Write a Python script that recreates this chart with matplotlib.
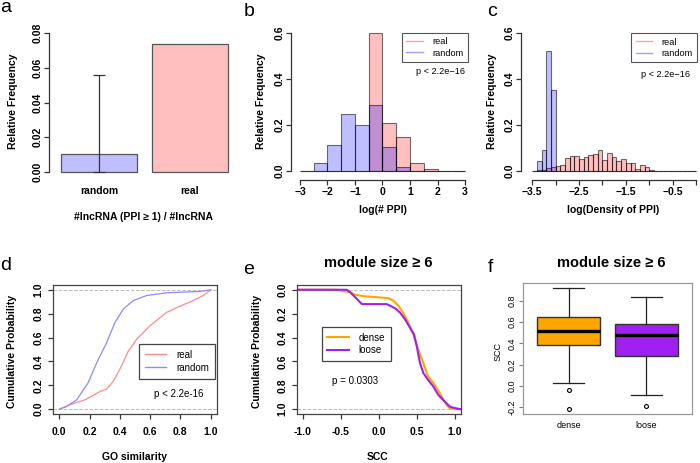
import matplotlib
matplotlib.use('Agg')
import matplotlib.pyplot as plt
from matplotlib.lines import Line2D
import numpy as np

plt.rcParams['font.family'] = ['Liberation Sans', 'DejaVu Sans']

W, H = 700, 463

# ---- a: fraction of lncRNAs with PPI >= 1
a_groups = ['random', 'real']
a_freq = [0.0105, 0.0735]
a_err_top = 0.056

# ---- b: log(# PPI) histogram, bins of 0.5
b_edges = [-3.0, -2.5, -2.0, -1.5, -1.0, -0.5, 0.0, 0.5, 1.0, 1.5, 2.0, 2.5, 3.0]
b_real = [0, 0, 0, 0, 0, 0.600, 0.210, 0.148, 0.036, 0.007, 0.002, 0.001]
b_random = [0.002, 0.036, 0.111, 0.246, 0.200, 0.285, 0.106, 0.016, 0.002, 0, 0, 0]

# ---- c: log(density of PPI) histogram, bins of 0.1
c_edges = [-3.5, -3.4, -3.3, -3.2, -3.1, -3.0, -2.9, -2.8, -2.7, -2.6, -2.5, -2.4,
           -2.3, -2.2, -2.1, -2.0, -1.9, -1.8, -1.7, -1.6, -1.5, -1.4, -1.3, -1.2,
           -1.1, -1.0, -0.9, -0.8, -0.7, -0.6, -0.5, -0.4, -0.3, -0.2, -0.1, 0.0]
c_real = [0, 0.003, 0.006, 0.012, 0.016, 0.023, 0.028, 0.055, 0.065, 0.067, 0.054,
          0.060, 0.071, 0.072, 0.091, 0.048, 0.080, 0.062, 0.042, 0.051, 0.033,
          0.033, 0.010, 0.025, 0.016, 0.003, 0.002, 0.001, 0.001, 0.001, 0.002,
          0.001, 0, 0, 0]
c_random = [0.002, 0.043, 0.091, 0.522, 0.352, 0, 0, 0, 0, 0, 0, 0, 0, 0, 0, 0, 0,
            0, 0, 0, 0, 0, 0, 0, 0, 0, 0, 0, 0, 0, 0, 0, 0, 0, 0]

# ---- d: GO similarity ECDF
d_real_x = [0.0, 0.07, 0.17, 0.27, 0.313, 0.357, 0.41, 0.456, 0.511, 0.60, 0.709, 0.797, 0.885, 0.95, 1.0]
d_real_y = [0.0, 0.037, 0.079, 0.149, 0.169, 0.234, 0.36, 0.487, 0.586, 0.70, 0.811, 0.862, 0.91, 0.952, 1.0]
d_rand_x = [0.0, 0.048, 0.115, 0.19, 0.247, 0.313, 0.368, 0.423, 0.489, 0.577, 0.709, 0.93, 1.0]
d_rand_y = [0.0, 0.023, 0.079, 0.22, 0.389, 0.558, 0.727, 0.839, 0.91, 0.952, 0.975, 0.986, 1.0]

# ---- e: SCC ECDF, module size >= 6
e_dense_x = [-1.08, -0.553, -0.44, -0.377, -0.31, -0.2, -0.026, 0.127, 0.19, 0.26, 0.32,
             0.39, 0.456, 0.52, 0.588, 0.65, 0.72, 0.807, 0.895, 0.94, 1.08]
e_dense_y = [0.0, 0.0, 0.014, 0.02, 0.042, 0.054, 0.062, 0.07, 0.09, 0.133, 0.19,
             0.274, 0.373, 0.5, 0.613, 0.726, 0.78, 0.867, 0.966, 0.994, 1.0]
e_loose_x = [-1.08, -0.42, -0.377, -0.31, -0.245, -0.22, 0.105, 0.15, 0.215, 0.28, 0.346,
             0.41, 0.465, 0.5, 0.544, 0.588, 0.65, 0.72, 0.785, 0.85, 0.94, 1.03, 1.08]
e_loose_y = [0.0, 0.0, 0.02, 0.062, 0.105, 0.12, 0.12, 0.133, 0.155, 0.19, 0.246,
             0.316, 0.373, 0.47, 0.613, 0.697, 0.754, 0.81, 0.88, 0.923, 0.98, 0.994, 1.0]

# ---- f: SCC boxplot
f_groups = ['dense', 'loose']
f_med = [0.519, 0.478]
f_q1 = [0.385, 0.282]
f_q3 = [0.644, 0.582]
f_whislo = [0.026, -0.084]
f_whishi = [0.916, 0.835]
f_fliers = [[-0.037, -0.215], [-0.187]]

pink = (1, 0, 0, 0.25)
blue = (0, 0, 1, 0.25)
edge = (0, 0, 0, 0.55)
axc = '#333333'
fs = 7.5

fig = plt.figure(figsize=(7, 4.63), dpi=100)


def box(l, t, r, b):
    return fig.add_axes([l / W, 1 - b / H, (r - l) / W, (b - t) / H])


def ftext(x, y, s, **kw):
    fig.text(x / W, 1 - y / H, s, ha='center', va='center', **kw)


def r_axes(ax):
    for s in ['top', 'right']:
        ax.spines[s].set_visible(False)
    for s in ['left', 'bottom']:
        ax.spines[s].set_color(axc)
        ax.spines[s].set_linewidth(0.9)
    ax.tick_params(direction='out', length=3.6, width=0.9, color=axc)


# ================= a
ax = box(49, 27, 235, 178)
r_axes(ax)
ax.spines['bottom'].set_visible(False)
ax.spines['left'].set_bounds(0, 0.08)
ax.bar([0.7, 1.9], a_freq, width=1.0, color=['#bfbfff', '#ffbfbf'], edgecolor='#555555', lw=0.9)
ax.errorbar(0.7, a_freq[0], yerr=[[a_freq[0]], [a_err_top - a_freq[0]]], color='#333333',
            lw=0.9, capsize=4, capthick=0.9)
ax.set_xlim(0.042, 2.496)
ax.set_ylim(-0.00345, 0.08345)
ax.set_xticks([0.7, 1.9])
ax.set_xticklabels(a_groups, fontsize=fs, fontweight='bold')
ax.tick_params(axis='x', length=0, pad=6)
ax.set_yticks([0, 0.02, 0.04, 0.06, 0.08])
ax.set_yticklabels(['0.00', '0.02', '0.04', '0.06', '0.08'], fontsize=fs, fontweight='bold',
                   rotation=90, va='center')
ax.tick_params(axis='y', pad=1)
ftext(13, 101, 'Relative Frequency', fontsize=fs, fontweight='bold', rotation=90)
ftext(144, 217, '#lncRNA (PPI ≥ 1) / #lncRNA', fontsize=fs, fontweight='bold')


def hist_panel(ax, edges, real, rand):
    w = edges[1] - edges[0]
    ax.bar(edges[:-1], real, width=w, align='edge', color=pink, edgecolor=edge, lw=0.8)
    ax.bar(edges[:-1], rand, width=w, align='edge', color=blue, edgecolor=edge, lw=0.8)
    r_axes(ax)
    ax.spines['left'].set_bounds(0, 0.6)
    ax.set_yticks([0, 0.2, 0.4, 0.6])
    ax.set_yticklabels(['0.0', '0.2', '0.4', '0.6'], fontsize=fs, fontweight='bold',
                       rotation=90, va='center')
    ax.tick_params(axis='y', pad=1)
    ax.tick_params(axis='x', pad=1.5)
    handles = [Line2D([], [], color='#ff9f9f', lw=1), Line2D([], [], color='#9f9fff', lw=1)]
    leg = ax.legend(handles, ['real', 'random'], loc='upper right', bbox_to_anchor=(1, 1),
                    borderaxespad=0, fancybox=False, edgecolor='#555555', framealpha=1,
                    prop={'size': 6.6}, handlelength=1.8, handletextpad=1.0,
                    labelspacing=0.25, borderpad=0.5)
    leg.get_frame().set_linewidth(0.8)


# ================= b
ax = box(291, 32.7, 468, 180)
hist_panel(ax, b_edges, b_real, b_random)
ax.set_xlim(-3.327, 3.109)
ax.set_ylim(-0.039, 0.6)
ax.spines['bottom'].set_bounds(-3, 3)
ax.set_xticks([-3, -2, -1, 0, 1, 2, 3])
ax.set_xticklabels(['−3', '−2', '−1', '0', '1', '2', '3'], fontsize=fs, fontweight='bold')
ax.text(0.846, 0.735, 'p < 2.2e−16', transform=ax.transAxes, ha='center', va='center', fontsize=6.6)
ftext(261, 101, 'Relative Frequency', fontsize=fs, fontweight='bold', rotation=90)
ftext(383, 210, 'log(# PPI)', fontsize=fs, fontweight='bold')

# ================= c
ax = box(521, 33, 697, 180)
hist_panel(ax, c_edges, c_real, c_random)
ax.set_xlim(-3.742, 0.0215)
ax.set_ylim(-0.039, 0.6)
ax.spines['bottom'].set_bounds(-3.5, 0)
ax.set_xticks([-3.5, -3.0, -2.5, -2.0, -1.5, -1.0, -0.5, 0.0])
ax.set_xticklabels(['−3.5', '', '−2.5', '', '−1.5', '', '−0.5', ''], fontsize=fs, fontweight='bold')
ax.text(0.822, 0.72, 'p < 2.2e−16', transform=ax.transAxes, ha='center', va='center', fontsize=6.6)
ftext(491.7, 101, 'Relative Frequency', fontsize=fs, fontweight='bold', rotation=90)
ftext(613, 210, 'log(Density of PPI)', fontsize=fs, fontweight='bold')


def ecdf_frame(ax):
    for s in ax.spines.values():
        s.set_color('#444444')
        s.set_linewidth(0.9)
    ax.tick_params(direction='out', length=3.6, width=0.9, color=axc)
    ax.axhline(0, color='#bbbbbb', ls='--', lw=0.7, zorder=0)
    ax.axhline(1, color='#bbbbbb', ls='--', lw=0.7, zorder=0)
    ax.set_yticks([0, 0.2, 0.4, 0.6, 0.8, 1.0])
    ax.set_yticklabels(['0.0', '0.2', '0.4', '0.6', '0.8', '1.0'], fontsize=fs, fontweight='bold',
                       rotation=90, va='center')
    ax.tick_params(axis='y', pad=3)
    ax.tick_params(axis='x', pad=6)


# ================= d
ax = box(53, 285, 217, 414)
ax.plot(d_real_x, d_real_y, color='#ff8a8a', lw=0.9)
ax.plot(d_rand_x, d_rand_y, color='#8a8aff', lw=0.9)
ecdf_frame(ax)
ax.set_xlim(-0.0416, 1.0416)
ax.set_ylim(-0.04, 1.04)
ax.set_xticks([0, 0.2, 0.4, 0.6, 0.8, 1.0])
ax.set_xticklabels(['0.0', '0.2', '0.4', '0.6', '0.8', '1.0'], fontsize=fs, fontweight='bold')
handles = [Line2D([], [], color='#ff8a8a', lw=1), Line2D([], [], color='#8a8aff', lw=1)]
leg = ax.legend(handles, ['real', 'random'], loc='upper left', bbox_to_anchor=(0.524, 0.543),
                borderaxespad=0, fancybox=False, edgecolor='#444444', framealpha=1,
                prop={'size': 7}, handlelength=2.2, handletextpad=1.0, labelspacing=0.3,
                borderpad=0.6)
leg.get_frame().set_linewidth(0.9)
ax.text(0.768, 0.155, 'p < 2.2e-16', transform=ax.transAxes, ha='center', va='center', fontsize=7)
ftext(12.5, 351.7, 'Cumulative Probability', fontsize=fs, fontweight='bold', rotation=90)
ftext(135, 457, 'GO similarity', fontsize=fs, fontweight='bold')

# ================= e
ax = box(296.7, 285, 460.7, 414)
ax.plot(e_dense_x, e_dense_y, color='#FFA500', lw=1.5)
ax.plot(e_loose_x, e_loose_y, color='#A020F0', lw=1.5)
ecdf_frame(ax)
ax.set_xlim(-1.08, 1.08)
ax.set_ylim(1.04, -0.04)
ax.set_xticks([-1.0, -0.5, 0.0, 0.5, 1.0])
ax.set_xticklabels(['-1.0', '-0.5', '0.0', '0.5', '1.0'], fontsize=fs, fontweight='bold')
handles = [Line2D([], [], color='#FFA500', lw=1.5), Line2D([], [], color='#A020F0', lw=1.5)]
leg = ax.legend(handles, ['dense', 'loose'], loc='upper left', bbox_to_anchor=(0.152, 0.677),
                borderaxespad=0, fancybox=False, edgecolor='#444444', framealpha=1,
                prop={'size': 7}, handlelength=2.2, handletextpad=1.0, labelspacing=0.3,
                borderpad=0.6)
leg.get_frame().set_linewidth(0.9)
ax.text(0.355, 0.258, 'p = 0.0303', transform=ax.transAxes, ha='center', va='center', fontsize=7)
ftext(256.7, 351, 'Cumulative Probability', fontsize=fs, fontweight='bold', rotation=90)
ftext(378, 456.7, 'SCC', fontsize=fs, fontweight='bold')
ftext(378, 263, 'module size ≥ 6', fontsize=10.5, fontweight='bold')

# ================= f
ax = box(523.3, 283.3, 691.7, 414)
stats = []
for i in range(2):
    stats.append({'med': f_med[i], 'q1': f_q1[i], 'q3': f_q3[i], 'whislo': f_whislo[i],
                  'whishi': f_whishi[i], 'fliers': f_fliers[i], 'label': f_groups[i]})
bp = ax.bxp(stats, positions=[1, 2], widths=0.8, capwidths=0.4, patch_artist=True,
            boxprops={'edgecolor': '#333333', 'linewidth': 1.0},
            medianprops={'color': 'black', 'linewidth': 2.4},
            whiskerprops={'color': '#222222', 'linewidth': 0.9},
            capprops={'color': '#222222', 'linewidth': 0.9},
            flierprops={'marker': 'o', 'markerfacecolor': 'none', 'markeredgecolor': 'black',
                        'markersize': 2.8, 'markeredgewidth': 0.8})
for patch, col in zip(bp['boxes'], ['#FFA500', '#A020F0']):
    patch.set_facecolor(col)
for s in ax.spines.values():
    s.set_color('#999999')
    s.set_linewidth(0.9)
ax.set_xlim(0.42, 2.58)
ax.set_ylim(-0.263, 0.963)
ax.set_xticks([1, 2])
ax.set_xticklabels(f_groups, fontsize=6.5)
ax.tick_params(axis='x', length=0, pad=5)
ax.set_yticks([-0.2, 0.0, 0.2, 0.4, 0.6, 0.8])
ax.set_yticklabels(['-0.2', '0.0', '0.2', '0.4', '0.6', '0.8'], fontsize=6.5, rotation=90, va='center')
ax.tick_params(axis='y', direction='out', length=3, width=0.8, color='#777777', pad=2)
ftext(498.3, 351.7, 'SCC', fontsize=6.5, rotation=90)
ftext(611.7, 263, 'module size ≥ 6', fontsize=10.5, fontweight='bold')

# panel letters
for lab, x, y in [('a', 6, 8), ('b', 249, 11), ('c', 492, 12),
                  ('d', 6, 265), ('e', 249, 270), ('f', 490, 268)]:
    ftext(x, y, lab, fontsize=14)

fig.savefig('out.png', dpi=100)
